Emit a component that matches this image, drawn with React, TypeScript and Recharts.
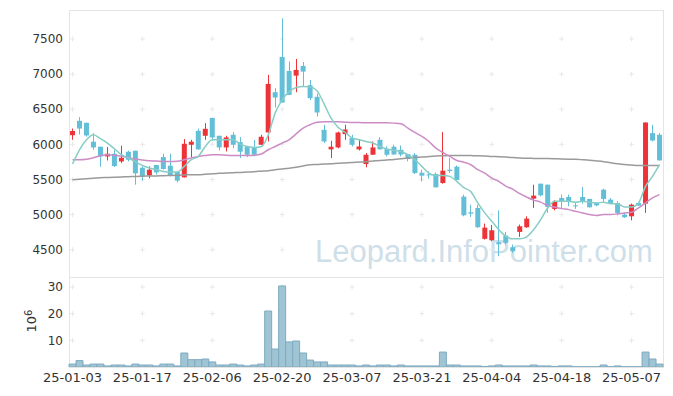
import React from 'react';
import {
  ComposedChart,
  Bar,
  Line,
  XAxis,
  YAxis,
  ReferenceDot,
} from 'recharts';

// trading days (YY-MM-DD)
const dates = [
  '25-01-03', '25-01-06', '25-01-07', '25-01-08', '25-01-09', '25-01-10',
  '25-01-13', '25-01-14', '25-01-15', '25-01-16', '25-01-17',
  '25-01-20', '25-01-21', '25-01-22', '25-01-23', '25-01-24',
  '25-01-31',
  '25-02-03', '25-02-04', '25-02-05', '25-02-06', '25-02-07',
  '25-02-10', '25-02-11', '25-02-12', '25-02-13', '25-02-14',
  '25-02-17', '25-02-18', '25-02-19', '25-02-20', '25-02-21',
  '25-02-24', '25-02-25', '25-02-26', '25-02-27', '25-02-28',
  '25-03-04', '25-03-05', '25-03-06', '25-03-07',
  '25-03-10', '25-03-11', '25-03-12', '25-03-13', '25-03-14',
  '25-03-17', '25-03-18', '25-03-19', '25-03-20', '25-03-21',
  '25-03-24', '25-03-25', '25-03-26', '25-03-27', '25-03-28',
  '25-03-31',
  '25-04-01', '25-04-02', '25-04-03', '25-04-04',
  '25-04-07', '25-04-08', '25-04-09', '25-04-10', '25-04-11',
  '25-04-14', '25-04-15', '25-04-16', '25-04-17', '25-04-18',
  '25-04-21', '25-04-22', '25-04-23', '25-04-24', '25-04-25',
  '25-04-28', '25-04-29', '25-04-30',
  '25-05-02',
  '25-05-07', '25-05-08', '25-05-09',
  '25-05-12', '25-05-13',
];

const opens = [
  6130, 6335, 6306, 6037, 5966, 5828, 5866, 5757, 5895, 5909,
  5667, 5558, 5706, 5819, 5696, 5606, 5530, 5994, 6193, 6122,
  6377, 6122, 5956, 6136, 6032, 5966, 5951, 5994, 6169, 6742,
  7244, 7045, 6978, 7116, 6842, 6676, 6207, 5928, 5956, 6146,
  6089, 5928, 5720, 5852, 6065, 5933, 5966, 5923, 5862, 5852,
  5596, 5573, 5578, 5450, 5639, 5682, 5256, 5033, 5095, 4655,
  4635, 4607, 4702, 4536, 4754, 4820, 5227, 5440, 5426, 5081,
  5237, 5251, 5132, 5251, 5223, 5166, 5355, 5213, 5166, 5000,
  4976, 5166, 5156, 6160, 6136,
];
const highs = [
  6225, 6387, 6310, 6160, 5966, 5961, 5923, 5980, 5909, 5909,
  5686, 5686, 5706, 5866, 5866, 5606, 6075, 6065, 6225, 6302,
  6377, 6122, 6122, 6174, 6103, 5966, 6065, 6136, 6988, 6799,
  7793, 7180, 7215, 7173, 6917, 6722, 6278, 6051, 6180, 6278,
  6136, 6065, 5876, 6041, 6103, 5970, 5994, 5984, 5862, 5876,
  5639, 5615, 5600, 6174, 5805, 5700, 5284, 5142, 5142, 4872,
  4853, 5061, 4754, 4574, 4858, 4976, 5426, 5440, 5426, 5203,
  5284, 5284, 5175, 5393, 5223, 5175, 5369, 5237, 5189, 5024,
  5156, 5175, 6311, 6278, 6160,
];
const lows = [
  6065, 6140, 6110, 5923, 5680, 5771, 5677, 5734, 5757, 5426,
  5483, 5516, 5570, 5640, 5545, 5459, 5530, 5820, 5923, 6065,
  6051, 5913, 5899, 5947, 5805, 5819, 5828, 5990, 6041, 6524,
  6594, 6704, 6742, 6820, 6630, 6396, 6018, 5805, 5945, 6065,
  5970, 5913, 5672, 5852, 5928, 5828, 5852, 5828, 5757, 5578,
  5473, 5511, 5388, 5440, 5592, 5490, 4976, 4967, 4811, 4645,
  4621, 4408, 4574, 4456, 4683, 4811, 5095, 5260, 5024, 5061,
  5081, 5118, 5081, 5156, 5100, 5118, 5166, 5156, 4990, 4953,
  4919, 5128, 5024, 6041, 5771,
];
const closes = [
  6190, 6225, 6126, 5956, 5828, 5866, 5692, 5809, 5781, 5587,
  5550, 5639, 5601, 5649, 5554, 5483, 6008, 6037, 5928, 6221,
  6098, 5956, 6098, 5994, 5895, 5852, 5852, 6108, 6860, 6666,
  6594, 6704, 7059, 7035, 6657, 6453, 6041, 5966, 6169, 6211,
  5994, 5970, 5852, 5956, 5928, 5852, 5856, 5856, 5791, 5592,
  5554, 5559, 5388, 5625, 5620, 5493, 4990, 5014, 4820, 4815,
  4777, 4578, 4598, 4479, 4834, 4943, 5270, 5274, 5109, 5180,
  5180, 5189, 5118, 5180, 5104, 5132, 5223, 5166, 5024, 4962,
  5142, 5128, 6311, 6055, 5771,
];

// moving averages
const ma5 = [
  5720, 5923, 6065, 6136, 6080, 6018, 5937, 5852, 5805, 5753,
  5700, 5663, 5639, 5615, 5606, 5606, 5686, 5781, 5828, 5970,
  6065, 6065, 6065, 6065, 6004, 5970, 5956, 5966, 6130, 6444,
  6633, 6751, 6810, 6825, 6818, 6761, 6576, 6373, 6243, 6172,
  6093, 6065, 6041, 6018, 5970, 5933, 5913, 5899, 5852, 5781,
  5686, 5592, 5558, 5558, 5544, 5473, 5383, 5327, 5166, 5024,
  4905, 4787, 4692, 4655, 4655, 4683, 4787, 4929, 5095, 5189,
  5189, 5189, 5175, 5189, 5175, 5166, 5175, 5156, 5156, 5109,
  5109, 5166, 5402, 5544, 5710,
];
const ma20 = [
  5781, 5781, 5788, 5809, 5838, 5852, 5845, 5831, 5809, 5791,
  5777, 5767, 5763, 5757, 5757, 5760, 5781, 5805, 5828, 5842,
  5852, 5852, 5845, 5842, 5842, 5842, 5845, 5862, 5923, 5970,
  6018, 6065, 6150, 6231, 6278, 6316, 6321, 6321, 6321, 6316,
  6311, 6311, 6306, 6306, 6306, 6306, 6302, 6292, 6231, 6169,
  6112, 6041, 5947, 5885, 5828, 5771, 5746, 5710, 5639, 5590,
  5519, 5473, 5405, 5362, 5298, 5249, 5206, 5178, 5128, 5107,
  5085, 5071, 5047, 5024, 5000, 4986, 5000, 5000, 5010, 5024,
  5033, 5095, 5166, 5237, 5284,
];
const ma60 = [
  5497, 5504, 5511, 5518, 5525, 5528, 5532, 5536, 5539, 5544,
  5547, 5549, 5551, 5554, 5557, 5561, 5565, 5568, 5568, 5575,
  5582, 5587, 5592, 5597, 5601, 5606, 5611, 5618, 5625, 5639,
  5649, 5660, 5675, 5693, 5710, 5714, 5720, 5724, 5731, 5736,
  5741, 5748, 5753, 5763, 5771, 5778, 5785, 5795, 5805, 5812,
  5819, 5826, 5835, 5838, 5840, 5842, 5842, 5840, 5838, 5834,
  5828, 5824, 5819, 5814, 5807, 5802, 5800, 5798, 5797, 5795,
  5792, 5789, 5787, 5781, 5774, 5764, 5753, 5738, 5724, 5713,
  5706, 5700, 5700, 5700, 5700,
];

// volume in millions
const volumes = [
  1.1, 2.4, 0.75, 1.1, 1.1, 0.4, 0.75, 0.75, 0.4, 1.1,
  0.75, 0.75, 0.4, 1.1, 1.1, 0.4, 5.25, 2.75, 2.75, 3.0,
  1.9, 0.75, 0.75, 1.1, 0.75, 0.4, 0.75, 1.1, 21, 6.75,
  30.4, 9.4, 9.75, 5.25, 2.6, 1.9, 1.9, 0.75, 0.75, 0.75,
  0.75, 0.4, 0.75, 0.4, 0.75, 0.75, 0.4, 0.75, 0.4, 0.4,
  0.4, 0.4, 0.4, 5.6, 0.75, 0.75, 0.4, 0.4, 0.4, 0.2,
  0.4, 0.75, 0.4, 0.4, 0.4, 0.4, 0.75, 0.4, 0.4, 0.2,
  0.4, 0.4, 0.1, 0.1, 0.1, 0.1, 0.75, 0.1, 0.4, 0.1,
  0.1, 0.1, 5.6, 3.0, 1.1,
];

const priceTicks = [4500, 5000, 5500, 6000, 6500, 7000, 7500];
const volumeTicks = [10, 20, 30];

const RED = '#ee3338';
const BLUE = '#63bfd8';
const FONT = 'DejaVu Sans';

const rows = dates.map((date, i) => ({
  date,
  open: opens[i],
  high: highs[i],
  low: lows[i],
  close: closes[i],
  range: [lows[i], highs[i]],
  ma5: ma5[i],
  ma20: ma20[i],
  ma60: ma60[i],
  volume: volumes[i],
}));

const xTickDates = dates.filter((_, i) => i % 10 === 0);

const Candle = (props: any) => {
  const { x, y, width, height, payload } = props;
  if (!payload) return null;
  const { open, close, high, low } = payload;
  const color = close > open ? RED : BLUE;
  const top = Math.min(y, y + height);
  const h = Math.abs(height);
  const ratio = h / (high - low || 1);
  const bodyTop = top + (high - Math.max(open, close)) * ratio;
  const bodyH = Math.max(1, Math.abs(open - close) * ratio);
  const cx = Math.floor(x + width / 2) + 0.5;
  return (
    <g>
      <line x1={cx} x2={cx} y1={top} y2={top + h} stroke={color} strokeWidth={1} />
      <rect x={x} y={bodyTop} width={width} height={bodyH} fill={color} />
    </g>
  );
};

const Plus = (props: any) => {
  const { cx, cy } = props;
  return (
    <path
      d={`M${cx - 2.5},${cy}H${cx + 2.5}M${cx},${cy - 2.5}V${cy + 2.5}`}
      stroke="#e8e8e8"
      strokeWidth={1}
    />
  );
};

const tickStyle = { fill: '#333', fontSize: 12, fontFamily: FONT };

const App = () => {
  return (
    <div style={{ position: 'absolute', left: 0, top: 0, width: 673, height: 396, background: '#fff' }}>
      <svg width={673} height={396} style={{ position: 'absolute', left: 0, top: 0 }}>
        <text x={315} y={262} fontSize={31} fontFamily="Liberation Sans" fill="#cfdfe9">
          Leopard.InfoPointer.com
        </text>
      </svg>

      {/* frame */}
      <div
        style={{
          position: 'absolute',
          left: 69,
          top: 10,
          width: 595,
          height: 358,
          border: '1px solid #e4e4e4',
          boxSizing: 'border-box',
        }}
      />
      <div style={{ position: 'absolute', left: 69, top: 277, width: 595, height: 1, background: '#e4e4e4' }} />

      {/* price panel */}
      <div style={{ position: 'absolute', left: 0, top: 0 }}>
        <ComposedChart
          width={673}
          height={277}
          data={rows}
          margin={{ top: 10, right: 10, bottom: 0, left: 9 }}
        >
          <XAxis dataKey="date" hide />
          <YAxis
            domain={[4112, 7912]}
            ticks={priceTicks}
            allowDataOverflow
            width={60}
            tickSize={0}
            tickMargin={6}
            axisLine={false}
            tick={tickStyle}
          />
          {xTickDates.map((d) =>
            priceTicks.map((v) => (
              <ReferenceDot key={`${d}-${v}`} x={d} y={v} r={3} shape={<Plus />} zIndex={50} />
            ))
          )}
          <Bar dataKey="range" shape={<Candle />} barSize={5} isAnimationActive={false} />
          <Line type="monotone" dataKey="ma60" stroke="#9a9a9a" strokeWidth={1.5} dot={false} isAnimationActive={false} />
          <Line type="monotone" dataKey="ma20" stroke="#cc8cc6" strokeWidth={1.5} dot={false} isAnimationActive={false} />
          <Line type="monotone" dataKey="ma5" stroke="#88cdc5" strokeWidth={1.5} dot={false} isAnimationActive={false} />
        </ComposedChart>
      </div>

      {/* volume panel */}
      <div style={{ position: 'absolute', left: 0, top: 277 }}>
        <ComposedChart
          width={673}
          height={119}
          data={rows}
          barCategoryGap={0}
          margin={{ top: 0, right: 10, bottom: 0, left: 9 }}
        >
          <XAxis
            dataKey="date"
            interval={9}
            height={29}
            tickSize={0}
            tickMargin={6}
            axisLine={false}
            tick={{ ...tickStyle, fontSize: 13 }}
          />
          <YAxis
            domain={[0, 33.75]}
            ticks={volumeTicks}
            allowDataOverflow
            width={60}
            tickSize={0}
            tickMargin={6}
            axisLine={false}
            tick={tickStyle}
          />
          {xTickDates.map((d) =>
            volumeTicks.map((v) => (
              <ReferenceDot key={`${d}-${v}`} x={d} y={v} r={3} shape={<Plus />} zIndex={50} />
            ))
          )}
          <Bar dataKey="volume" fill="#9fc4d4" stroke="#7eabc0" strokeWidth={1} isAnimationActive={false} />
        </ComposedChart>
      </div>

      <div
        style={{
          position: 'absolute',
          left: 32,
          top: 321,
          transform: 'translate(-50%, -50%) rotate(-90deg)',
          fontFamily: FONT,
          fontSize: 13,
          lineHeight: '16px',
          color: '#333',
          whiteSpace: 'nowrap',
        }}
      >
        10<sup style={{ fontSize: 10, verticalAlign: 'top', lineHeight: '10px' }}>6</sup>
      </div>
    </div>
  );
};

export default App;
